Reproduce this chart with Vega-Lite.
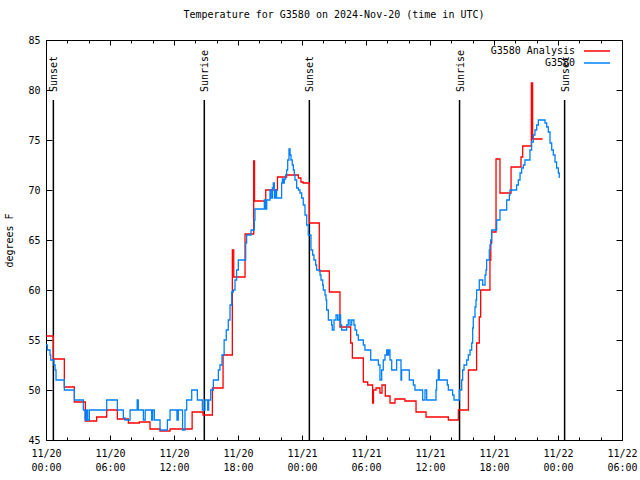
{
  "$schema": "https://vega.github.io/schema/vega-lite/v6.json",
  "width": 576,
  "height": 400,
  "autosize": {"type": "none"},
  "padding": {"left": 46, "top": 40, "right": 18, "bottom": 40},
  "background": "white",
  "title": {"text": "Temperature for G3580 on 2024-Nov-20 (time in UTC)", "font": "DejaVu Sans Mono", "fontSize": 10, "fontWeight": "normal", "color": "black", "offset": 15, "anchor": "middle"},
  "config": {
    "view": {"stroke": "black", "strokeWidth": 1},
    "axis": {"grid": false, "domainColor": "black", "tickColor": "black", "labelColor": "black", "labelFont": "DejaVu Sans Mono", "labelFontSize": 10, "titleFont": "DejaVu Sans Mono", "titleFontSize": 10, "titleFontWeight": "normal", "titleColor": "black"},
    "legend": {"labelFont": "DejaVu Sans Mono", "labelFontSize": 10, "labelColor": "black"}
  },
  "datasets": {
    "sun": [
      {"hour": 0.69, "event": "Sunset"},
      {"hour": 14.84, "event": "Sunrise"},
      {"hour": 24.69, "event": "Sunset"},
      {"hour": 38.77, "event": "Sunrise"},
      {"hour": 48.62, "event": "Sunset"}
    ],
    "analysis": [
      {"hour": 0, "temp": 55.4, "series": "G3580 Analysis"},
      {"hour": 0.69, "temp": 53.1, "series": "G3580 Analysis"},
      {"hour": 1.72, "temp": 50.3, "series": "G3580 Analysis"},
      {"hour": 2.66, "temp": 48.8, "series": "G3580 Analysis"},
      {"hour": 3.69, "temp": 46.9, "series": "G3580 Analysis"},
      {"hour": 4.75, "temp": 47.3, "series": "G3580 Analysis"},
      {"hour": 5.69, "temp": 48.0, "series": "G3580 Analysis"},
      {"hour": 6.69, "temp": 47.1, "series": "G3580 Analysis"},
      {"hour": 7.72, "temp": 46.7, "series": "G3580 Analysis"},
      {"hour": 8.75, "temp": 46.8, "series": "G3580 Analysis"},
      {"hour": 9.75, "temp": 46.1, "series": "G3580 Analysis"},
      {"hour": 10.69, "temp": 45.9, "series": "G3580 Analysis"},
      {"hour": 11.63, "temp": 46.1, "series": "G3580 Analysis"},
      {"hour": 13.7, "temp": 47.8, "series": "G3580 Analysis"},
      {"hour": 14.72, "temp": 47.5, "series": "G3580 Analysis"},
      {"hour": 15.6, "temp": 50.2, "series": "G3580 Analysis"},
      {"hour": 16.6, "temp": 53.5, "series": "G3580 Analysis"},
      {"hour": 17.47, "temp": 64.0, "series": "G3580 Analysis"},
      {"hour": 17.6, "temp": 61.3, "series": "G3580 Analysis"},
      {"hour": 18.66, "temp": 65.6, "series": "G3580 Analysis"},
      {"hour": 19.47, "temp": 72.9, "series": "G3580 Analysis"},
      {"hour": 19.55, "temp": 68.9, "series": "G3580 Analysis"},
      {"hour": 20.6, "temp": 70.0, "series": "G3580 Analysis"},
      {"hour": 21.7, "temp": 71.3, "series": "G3580 Analysis"},
      {"hour": 22.56, "temp": 71.5, "series": "G3580 Analysis"},
      {"hour": 23.66, "temp": 71.2, "series": "G3580 Analysis"},
      {"hour": 23.9, "temp": 70.8, "series": "G3580 Analysis"},
      {"hour": 24.1, "temp": 70.7, "series": "G3580 Analysis"},
      {"hour": 24.69, "temp": 66.7, "series": "G3580 Analysis"},
      {"hour": 25.62, "temp": 61.9, "series": "G3580 Analysis"},
      {"hour": 26.56, "temp": 59.8, "series": "G3580 Analysis"},
      {"hour": 27.56, "temp": 56.3, "series": "G3580 Analysis"},
      {"hour": 28.56, "temp": 54.7, "series": "G3580 Analysis"},
      {"hour": 28.72, "temp": 53.2, "series": "G3580 Analysis"},
      {"hour": 29.75, "temp": 50.8, "series": "G3580 Analysis"},
      {"hour": 30.16, "temp": 50.5, "series": "G3580 Analysis"},
      {"hour": 30.62, "temp": 48.7, "series": "G3580 Analysis"},
      {"hour": 30.7, "temp": 50.0, "series": "G3580 Analysis"},
      {"hour": 30.94, "temp": 50.2, "series": "G3580 Analysis"},
      {"hour": 31.31, "temp": 49.7, "series": "G3580 Analysis"},
      {"hour": 31.5, "temp": 50.5, "series": "G3580 Analysis"},
      {"hour": 31.81, "temp": 49.4, "series": "G3580 Analysis"},
      {"hour": 32.25, "temp": 48.7, "series": "G3580 Analysis"},
      {"hour": 32.72, "temp": 49.1, "series": "G3580 Analysis"},
      {"hour": 33.65, "temp": 48.9, "series": "G3580 Analysis"},
      {"hour": 34.69, "temp": 47.8, "series": "G3580 Analysis"},
      {"hour": 35.63, "temp": 47.3, "series": "G3580 Analysis"},
      {"hour": 36.63, "temp": 47.3, "series": "G3580 Analysis"},
      {"hour": 37.72, "temp": 47.0, "series": "G3580 Analysis"},
      {"hour": 38.66, "temp": 48.0, "series": "G3580 Analysis"},
      {"hour": 39.6, "temp": 52.0, "series": "G3580 Analysis"},
      {"hour": 40.37, "temp": 54.7, "series": "G3580 Analysis"},
      {"hour": 40.62, "temp": 57.3, "series": "G3580 Analysis"},
      {"hour": 40.75, "temp": 60.0, "series": "G3580 Analysis"},
      {"hour": 41.62, "temp": 63.0, "series": "G3580 Analysis"},
      {"hour": 41.7, "temp": 64.7, "series": "G3580 Analysis"},
      {"hour": 41.78, "temp": 65.8, "series": "G3580 Analysis"},
      {"hour": 42.19, "temp": 73.1, "series": "G3580 Analysis"},
      {"hour": 42.56, "temp": 69.7, "series": "G3580 Analysis"},
      {"hour": 43.6, "temp": 72.3, "series": "G3580 Analysis"},
      {"hour": 44.53, "temp": 73.3, "series": "G3580 Analysis"},
      {"hour": 44.69, "temp": 74.4, "series": "G3580 Analysis"},
      {"hour": 45.5, "temp": 80.7, "series": "G3580 Analysis"},
      {"hour": 45.62, "temp": 75.1, "series": "G3580 Analysis"},
      {"hour": 46.56, "temp": 75.1, "series": "G3580 Analysis"}
    ],
    "obs": [
      {"hour": 0, "temp": 54.5, "series": "G3580"},
      {"hour": 0.125, "temp": 54.0, "series": "G3580"},
      {"hour": 0.375, "temp": 53.5, "series": "G3580"},
      {"hour": 0.44, "temp": 53.0, "series": "G3580"},
      {"hour": 0.75, "temp": 52.5, "series": "G3580"},
      {"hour": 0.85, "temp": 52.0, "series": "G3580"},
      {"hour": 0.94, "temp": 51.0, "series": "G3580"},
      {"hour": 1.72, "temp": 50.0, "series": "G3580"},
      {"hour": 2.66, "temp": 49.0, "series": "G3580"},
      {"hour": 3.5, "temp": 48.0, "series": "G3580"},
      {"hour": 3.66, "temp": 47.0, "series": "G3580"},
      {"hour": 3.8, "temp": 48.0, "series": "G3580"},
      {"hour": 3.9, "temp": 47.0, "series": "G3580"},
      {"hour": 4.06, "temp": 48.0, "series": "G3580"},
      {"hour": 5.69, "temp": 49.0, "series": "G3580"},
      {"hour": 6.69, "temp": 48.0, "series": "G3580"},
      {"hour": 7.25, "temp": 47.2, "series": "G3580"},
      {"hour": 7.41, "temp": 47.0, "series": "G3580"},
      {"hour": 7.88, "temp": 48.0, "series": "G3580"},
      {"hour": 8.55, "temp": 49.0, "series": "G3580"},
      {"hour": 8.65, "temp": 48.0, "series": "G3580"},
      {"hour": 9.13, "temp": 47.0, "series": "G3580"},
      {"hour": 9.3, "temp": 48.0, "series": "G3580"},
      {"hour": 9.9, "temp": 47.0, "series": "G3580"},
      {"hour": 10.0, "temp": 48.0, "series": "G3580"},
      {"hour": 10.16, "temp": 47.0, "series": "G3580"},
      {"hour": 10.69, "temp": 46.0, "series": "G3580"},
      {"hour": 11.38, "temp": 47.0, "series": "G3580"},
      {"hour": 11.63, "temp": 48.0, "series": "G3580"},
      {"hour": 12.28, "temp": 47.0, "series": "G3580"},
      {"hour": 12.4, "temp": 48.0, "series": "G3580"},
      {"hour": 12.8, "temp": 46.0, "series": "G3580"},
      {"hour": 13.03, "temp": 48.0, "series": "G3580"},
      {"hour": 13.19, "temp": 49.0, "series": "G3580"},
      {"hour": 13.66, "temp": 50.0, "series": "G3580"},
      {"hour": 14.19, "temp": 49.0, "series": "G3580"},
      {"hour": 14.66, "temp": 48.0, "series": "G3580"},
      {"hour": 14.9, "temp": 49.0, "series": "G3580"},
      {"hour": 15.16, "temp": 48.0, "series": "G3580"},
      {"hour": 15.25, "temp": 49.0, "series": "G3580"},
      {"hour": 15.44, "temp": 50.0, "series": "G3580"},
      {"hour": 15.69, "temp": 51.0, "series": "G3580"},
      {"hour": 16.16, "temp": 52.0, "series": "G3580"},
      {"hour": 16.31, "temp": 52.5, "series": "G3580"},
      {"hour": 16.5, "temp": 53.5, "series": "G3580"},
      {"hour": 16.7, "temp": 55.0, "series": "G3580"},
      {"hour": 16.9, "temp": 56.0, "series": "G3580"},
      {"hour": 17.09, "temp": 57.0, "series": "G3580"},
      {"hour": 17.25, "temp": 58.5, "series": "G3580"},
      {"hour": 17.41, "temp": 59.8, "series": "G3580"},
      {"hour": 17.56, "temp": 60.0, "series": "G3580"},
      {"hour": 17.72, "temp": 61.0, "series": "G3580"},
      {"hour": 17.87, "temp": 62.0, "series": "G3580"},
      {"hour": 18.03, "temp": 63.0, "series": "G3580"},
      {"hour": 18.72, "temp": 64.7, "series": "G3580"},
      {"hour": 18.81, "temp": 65.5, "series": "G3580"},
      {"hour": 19.22, "temp": 66.0, "series": "G3580"},
      {"hour": 19.53, "temp": 67.0, "series": "G3580"},
      {"hour": 19.59, "temp": 68.1, "series": "G3580"},
      {"hour": 20.47, "temp": 69.0, "series": "G3580"},
      {"hour": 20.59, "temp": 68.1, "series": "G3580"},
      {"hour": 20.69, "temp": 69.0, "series": "G3580"},
      {"hour": 21.0, "temp": 70.0, "series": "G3580"},
      {"hour": 21.09, "temp": 69.2, "series": "G3580"},
      {"hour": 21.22, "temp": 70.2, "series": "G3580"},
      {"hour": 21.31, "temp": 70.7, "series": "G3580"},
      {"hour": 21.41, "temp": 69.2, "series": "G3580"},
      {"hour": 21.53, "temp": 70.0, "series": "G3580"},
      {"hour": 21.62, "temp": 69.2, "series": "G3580"},
      {"hour": 22.09, "temp": 70.7, "series": "G3580"},
      {"hour": 22.16, "temp": 71.1, "series": "G3580"},
      {"hour": 22.25, "temp": 70.7, "series": "G3580"},
      {"hour": 22.34, "temp": 71.1, "series": "G3580"},
      {"hour": 22.47, "temp": 71.5, "series": "G3580"},
      {"hour": 22.56, "temp": 72.0, "series": "G3580"},
      {"hour": 22.66, "temp": 73.0, "series": "G3580"},
      {"hour": 22.78, "temp": 74.1, "series": "G3580"},
      {"hour": 22.88, "temp": 73.5, "series": "G3580"},
      {"hour": 22.97, "temp": 73.0, "series": "G3580"},
      {"hour": 23.09, "temp": 72.5, "series": "G3580"},
      {"hour": 23.19, "temp": 72.0, "series": "G3580"},
      {"hour": 23.28, "temp": 71.5, "series": "G3580"},
      {"hour": 23.34, "temp": 71.0, "series": "G3580"},
      {"hour": 23.5, "temp": 70.2, "series": "G3580"},
      {"hour": 23.66, "temp": 70.0, "series": "G3580"},
      {"hour": 23.81, "temp": 69.7, "series": "G3580"},
      {"hour": 23.97, "temp": 69.2, "series": "G3580"},
      {"hour": 24.12, "temp": 68.5, "series": "G3580"},
      {"hour": 24.28, "temp": 67.5, "series": "G3580"},
      {"hour": 24.44, "temp": 66.5, "series": "G3580"},
      {"hour": 24.59, "temp": 65.5, "series": "G3580"},
      {"hour": 24.84, "temp": 64.0, "series": "G3580"},
      {"hour": 25.0, "temp": 63.5, "series": "G3580"},
      {"hour": 25.12, "temp": 63.0, "series": "G3580"},
      {"hour": 25.28, "temp": 62.5, "series": "G3580"},
      {"hour": 25.37, "temp": 62.0, "series": "G3580"},
      {"hour": 25.69, "temp": 61.5, "series": "G3580"},
      {"hour": 25.78, "temp": 61.0, "series": "G3580"},
      {"hour": 25.94, "temp": 60.5, "series": "G3580"},
      {"hour": 26.0, "temp": 60.0, "series": "G3580"},
      {"hour": 26.16, "temp": 59.5, "series": "G3580"},
      {"hour": 26.25, "temp": 59.0, "series": "G3580"},
      {"hour": 26.31, "temp": 58.0, "series": "G3580"},
      {"hour": 26.47, "temp": 57.0, "series": "G3580"},
      {"hour": 26.78, "temp": 56.5, "series": "G3580"},
      {"hour": 26.84, "temp": 56.0, "series": "G3580"},
      {"hour": 27.0, "temp": 57.0, "series": "G3580"},
      {"hour": 27.19, "temp": 57.5, "series": "G3580"},
      {"hour": 27.34, "temp": 57.0, "series": "G3580"},
      {"hour": 27.5, "temp": 57.5, "series": "G3580"},
      {"hour": 27.62, "temp": 56.5, "series": "G3580"},
      {"hour": 27.72, "temp": 56.0, "series": "G3580"},
      {"hour": 28.19, "temp": 56.5, "series": "G3580"},
      {"hour": 28.34, "temp": 57.0, "series": "G3580"},
      {"hour": 28.5, "temp": 56.5, "series": "G3580"},
      {"hour": 28.66, "temp": 57.0, "series": "G3580"},
      {"hour": 28.87, "temp": 56.5, "series": "G3580"},
      {"hour": 28.97, "temp": 56.0, "series": "G3580"},
      {"hour": 29.12, "temp": 55.5, "series": "G3580"},
      {"hour": 29.28, "temp": 55.0, "series": "G3580"},
      {"hour": 29.75, "temp": 54.5, "series": "G3580"},
      {"hour": 29.9, "temp": 54.0, "series": "G3580"},
      {"hour": 30.44, "temp": 53.0, "series": "G3580"},
      {"hour": 31.16, "temp": 52.5, "series": "G3580"},
      {"hour": 31.31, "temp": 51.0, "series": "G3580"},
      {"hour": 31.47, "temp": 52.0, "series": "G3580"},
      {"hour": 31.62, "temp": 53.0, "series": "G3580"},
      {"hour": 31.78, "temp": 53.5, "series": "G3580"},
      {"hour": 31.94, "temp": 54.0, "series": "G3580"},
      {"hour": 32.03, "temp": 53.5, "series": "G3580"},
      {"hour": 32.12, "temp": 54.0, "series": "G3580"},
      {"hour": 32.25, "temp": 53.0, "series": "G3580"},
      {"hour": 32.41, "temp": 52.0, "series": "G3580"},
      {"hour": 32.87, "temp": 53.0, "series": "G3580"},
      {"hour": 33.28, "temp": 51.0, "series": "G3580"},
      {"hour": 33.34, "temp": 52.0, "series": "G3580"},
      {"hour": 34.06, "temp": 51.0, "series": "G3580"},
      {"hour": 34.44, "temp": 50.5, "series": "G3580"},
      {"hour": 34.59, "temp": 50.0, "series": "G3580"},
      {"hour": 35.31, "temp": 49.0, "series": "G3580"},
      {"hour": 35.53, "temp": 50.0, "series": "G3580"},
      {"hour": 35.69, "temp": 49.0, "series": "G3580"},
      {"hour": 36.56, "temp": 50.0, "series": "G3580"},
      {"hour": 36.62, "temp": 51.0, "series": "G3580"},
      {"hour": 36.78, "temp": 52.0, "series": "G3580"},
      {"hour": 36.87, "temp": 51.0, "series": "G3580"},
      {"hour": 37.62, "temp": 50.5, "series": "G3580"},
      {"hour": 37.72, "temp": 50.0, "series": "G3580"},
      {"hour": 38.12, "temp": 49.5, "series": "G3580"},
      {"hour": 38.25, "temp": 49.0, "series": "G3580"},
      {"hour": 38.75, "temp": 50.0, "series": "G3580"},
      {"hour": 38.97, "temp": 51.0, "series": "G3580"},
      {"hour": 39.06, "temp": 52.0, "series": "G3580"},
      {"hour": 39.19, "temp": 52.5, "series": "G3580"},
      {"hour": 39.44, "temp": 53.0, "series": "G3580"},
      {"hour": 39.59, "temp": 53.5, "series": "G3580"},
      {"hour": 39.75, "temp": 54.0, "series": "G3580"},
      {"hour": 39.91, "temp": 54.7, "series": "G3580"},
      {"hour": 40.0, "temp": 56.2, "series": "G3580"},
      {"hour": 40.06, "temp": 57.3, "series": "G3580"},
      {"hour": 40.22, "temp": 58.3, "series": "G3580"},
      {"hour": 40.31, "temp": 59.0, "series": "G3580"},
      {"hour": 40.37, "temp": 60.0, "series": "G3580"},
      {"hour": 40.62, "temp": 61.0, "series": "G3580"},
      {"hour": 40.94, "temp": 60.5, "series": "G3580"},
      {"hour": 41.16, "temp": 61.5, "series": "G3580"},
      {"hour": 41.25, "temp": 62.0, "series": "G3580"},
      {"hour": 41.31, "temp": 63.0, "series": "G3580"},
      {"hour": 41.56, "temp": 64.0, "series": "G3580"},
      {"hour": 41.62, "temp": 64.5, "series": "G3580"},
      {"hour": 41.69, "temp": 65.0, "series": "G3580"},
      {"hour": 41.78, "temp": 66.0, "series": "G3580"},
      {"hour": 42.25, "temp": 67.0, "series": "G3580"},
      {"hour": 42.56, "temp": 68.0, "series": "G3580"},
      {"hour": 43.19, "temp": 69.0, "series": "G3580"},
      {"hour": 43.44, "temp": 69.5, "series": "G3580"},
      {"hour": 43.5, "temp": 70.0, "series": "G3580"},
      {"hour": 44.12, "temp": 70.5, "series": "G3580"},
      {"hour": 44.28, "temp": 71.0, "series": "G3580"},
      {"hour": 44.44, "temp": 71.7, "series": "G3580"},
      {"hour": 44.59, "temp": 72.2, "series": "G3580"},
      {"hour": 44.75, "temp": 72.5, "series": "G3580"},
      {"hour": 44.9, "temp": 73.0, "series": "G3580"},
      {"hour": 45.37, "temp": 74.0, "series": "G3580"},
      {"hour": 45.53, "temp": 74.8, "series": "G3580"},
      {"hour": 45.69, "temp": 75.5, "series": "G3580"},
      {"hour": 45.84, "temp": 76.0, "series": "G3580"},
      {"hour": 46.0, "temp": 76.5, "series": "G3580"},
      {"hour": 46.16, "temp": 77.0, "series": "G3580"},
      {"hour": 46.62, "temp": 77.0, "series": "G3580"},
      {"hour": 46.78, "temp": 76.7, "series": "G3580"},
      {"hour": 46.94, "temp": 76.3, "series": "G3580"},
      {"hour": 47.09, "temp": 75.8, "series": "G3580"},
      {"hour": 47.25, "temp": 74.7, "series": "G3580"},
      {"hour": 47.41, "temp": 74.0, "series": "G3580"},
      {"hour": 47.56, "temp": 73.5, "series": "G3580"},
      {"hour": 47.72, "temp": 72.8, "series": "G3580"},
      {"hour": 47.87, "temp": 72.2, "series": "G3580"},
      {"hour": 48.03, "temp": 71.7, "series": "G3580"},
      {"hour": 48.12, "temp": 71.2, "series": "G3580"}
    ]
  },
  "layer": [
    {
      "data": {"name": "sun"},
      "mark": {"type": "rule", "color": "black", "strokeWidth": 1.5},
      "encoding": {
        "x": {"field": "hour", "type": "quantitative", "scale": {"domain": [0, 54], "nice": false, "zero": false},
              "axis": {"orient": "bottom", "values": [0,2,4,6,8,10,12,14,16,18,20,22,24,26,28,30,32,34,36,38,40,42,44,46,48,50,52,54], "tickSize": -3, "labels": false, "domain": false, "title": null}},
        "y": {"datum": 45, "type": "quantitative", "scale": {"domain": [45, 85], "nice": false, "zero": false},
              "axis": {"orient": "right", "values": [45,50,55,60,65,70,75,80,85], "tickSize": -6, "labels": false, "domain": false, "title": null}},
        "y2": {"datum": 79.0}
      }
    },
    {
      "data": {"name": "sun"},
      "mark": {"type": "text", "angle": 270, "align": "left", "baseline": "middle", "font": "DejaVu Sans Mono", "fontSize": 10, "color": "black", "dy": 1},
      "encoding": {
        "x": {"field": "hour", "type": "quantitative",
              "axis": {"orient": "top", "values": [0,2,4,6,8,10,12,14,16,18,20,22,24,26,28,30,32,34,36,38,40,42,44,46,48,50,52,54], "tickSize": -3, "labels": false, "domain": false, "title": null}},
        "y": {"datum": 79.8, "type": "quantitative", "axis": null},
        "text": {"field": "event"}
      }
    },
    {
      "data": {"name": "analysis"},
      "mark": {"type": "line", "interpolate": "step-after", "strokeWidth": 1.3},
      "encoding": {
        "x": {"field": "hour", "type": "quantitative",
              "axis": {"orient": "bottom", "values": [0,6,12,18,24,30,36,42,48,54], "tickSize": -5, "labelPadding": 13, "labelLineHeight": 14, "labelFlush": false, "title": null,
                       "labelExpr": "[datum.value < 24 ? '11/20' : (datum.value < 48 ? '11/21' : '11/22'), (datum.value % 24 < 10 ? '0' : '') + (datum.value % 24) + ':00']"}},
        "y": {"field": "temp", "type": "quantitative",
              "axis": {"orient": "left", "values": [45,50,55,60,65,70,75,80,85], "tickSize": -6, "labelPadding": 12, "title": "degrees F", "titlePadding": 13}},
        "color": {"field": "series", "type": "nominal",
                  "scale": {"domain": ["G3580 Analysis", "G3580"], "range": ["#ff0000", "#0080ff"]},
                  "legend": {"orient": "none", "legendX": 544, "legendY": 4, "title": null, "padding": 0, "offset": 0,
                             "symbolType": "M-2.17,0H2.17", "symbolSize": 144, "symbolStrokeWidth": 1.5,
                             "labelAlign": "right", "labelOffset": -29, "rowPadding": 0}}
      }
    },
    {
      "data": {"name": "obs"},
      "mark": {"type": "line", "interpolate": "step-after", "strokeWidth": 1.3},
      "encoding": {
        "x": {"field": "hour", "type": "quantitative",
              "axis": {"orient": "top", "values": [0,6,12,18,24,30,36,42,48,54], "tickSize": -5, "labels": false, "domain": false, "title": null}},
        "y": {"field": "temp", "type": "quantitative", "axis": null},
        "color": {"field": "series", "type": "nominal"}
      }
    }
  ],
  "resolve": {"axis": {"x": "independent", "y": "independent"}}
}
